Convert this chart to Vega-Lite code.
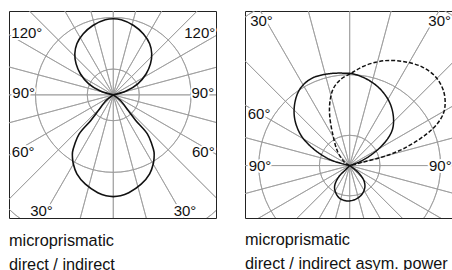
{
  "$schema": "https://vega.github.io/schema/vega-lite/v6.json",
  "padding": {"left": 8, "top": 10, "right": 0, "bottom": 0},
  "background": "white",
  "spacing": 27,
  "config": {"view": {"stroke": "#222", "strokeWidth": 1}, "font": "Liberation Sans"},
  "datasets": {
    "rings": [{"r": 1}, {"r": 2}, {"r": 3}, {"r": 4}, {"r": 5}, {"r": 6}, {"r": 7}],
    "spokes": [{"a": 0}, {"a": 15}, {"a": 30}, {"a": 45}, {"a": 60}, {"a": 75}, {"a": 90}, {"a": 105}, {"a": 120}, {"a": 135}, {"a": 150}, {"a": 165}, {"a": 180}, {"a": 195}, {"a": 210}, {"a": 225}, {"a": 240}, {"a": 255}, {"a": 270}, {"a": 285}, {"a": 300}, {"a": 315}, {"a": 330}, {"a": 345}],
    "leftCurve": [
      {"s": "U", "i": 0, "x": 0, "y": 0}, {"s": "U", "i": 1, "x": -0.5, "y": 0.15}, {"s": "U", "i": 2, "x": -0.95, "y": 0.43}, {"s": "U", "i": 3, "x": -1.27, "y": 0.81}, {"s": "U", "i": 4, "x": -1.44, "y": 1.2}, {"s": "U", "i": 5, "x": -1.49, "y": 1.59}, {"s": "U", "i": 6, "x": -1.41, "y": 1.98}, {"s": "U", "i": 7, "x": -1.17, "y": 2.36}, {"s": "U", "i": 8, "x": -0.79, "y": 2.69}, {"s": "U", "i": 9, "x": -0.31, "y": 2.91}, {"s": "U", "i": 10, "x": 0, "y": 2.95}, {"s": "U", "i": 11, "x": 0.31, "y": 2.91}, {"s": "U", "i": 12, "x": 0.79, "y": 2.69}, {"s": "U", "i": 13, "x": 1.17, "y": 2.36}, {"s": "U", "i": 14, "x": 1.41, "y": 1.98}, {"s": "U", "i": 15, "x": 1.49, "y": 1.59}, {"s": "U", "i": 16, "x": 1.44, "y": 1.2}, {"s": "U", "i": 17, "x": 1.27, "y": 0.81}, {"s": "U", "i": 18, "x": 0.95, "y": 0.43}, {"s": "U", "i": 19, "x": 0.5, "y": 0.15}, {"s": "U", "i": 20, "x": 0, "y": 0},
      {"s": "D", "i": 0, "x": 0, "y": 0}, {"s": "D", "i": 1, "x": -0.28, "y": -0.22}, {"s": "D", "i": 2, "x": -0.58, "y": -0.61}, {"s": "D", "i": 3, "x": -0.87, "y": -0.99}, {"s": "D", "i": 4, "x": -1.32, "y": -1.51}, {"s": "D", "i": 5, "x": -1.49, "y": -1.9}, {"s": "D", "i": 6, "x": -1.58, "y": -2.22}, {"s": "D", "i": 7, "x": -1.58, "y": -2.45}, {"s": "D", "i": 8, "x": -1.55, "y": -2.67}, {"s": "D", "i": 9, "x": -1.41, "y": -3.06}, {"s": "D", "i": 10, "x": -1.08, "y": -3.46}, {"s": "D", "i": 11, "x": -0.6, "y": -3.79}, {"s": "D", "i": 12, "x": -0.28, "y": -3.91}, {"s": "D", "i": 13, "x": 0, "y": -3.94}, {"s": "D", "i": 14, "x": 0.28, "y": -3.91}, {"s": "D", "i": 15, "x": 0.6, "y": -3.79}, {"s": "D", "i": 16, "x": 1.08, "y": -3.46}, {"s": "D", "i": 17, "x": 1.41, "y": -3.06}, {"s": "D", "i": 18, "x": 1.55, "y": -2.67}, {"s": "D", "i": 19, "x": 1.58, "y": -2.45}, {"s": "D", "i": 20, "x": 1.58, "y": -2.22}, {"s": "D", "i": 21, "x": 1.49, "y": -1.9}, {"s": "D", "i": 22, "x": 1.32, "y": -1.51}, {"s": "D", "i": 23, "x": 0.87, "y": -0.99}, {"s": "D", "i": 24, "x": 0.58, "y": -0.61}, {"s": "D", "i": 25, "x": 0.28, "y": -0.22}, {"s": "D", "i": 26, "x": 0, "y": 0}
    ],
    "rightCurve": [
      {"s": "SU", "c": "solid", "i": 0, "x": 0, "y": 0}, {"s": "SU", "c": "solid", "i": 1, "x": -0.35, "y": 0.09}, {"s": "SU", "c": "solid", "i": 2, "x": -0.7, "y": 0.22}, {"s": "SU", "c": "solid", "i": 3, "x": -1.23, "y": 0.58}, {"s": "SU", "c": "solid", "i": 4, "x": -1.62, "y": 1.02}, {"s": "SU", "c": "solid", "i": 5, "x": -1.82, "y": 1.57}, {"s": "SU", "c": "solid", "i": 6, "x": -1.8, "y": 2.12}, {"s": "SU", "c": "solid", "i": 7, "x": -1.62, "y": 2.56}, {"s": "SU", "c": "solid", "i": 8, "x": -1.23, "y": 2.89}, {"s": "SU", "c": "solid", "i": 9, "x": -0.68, "y": 3.03}, {"s": "SU", "c": "solid", "i": 10, "x": -0.24, "y": 3.05}, {"s": "SU", "c": "solid", "i": 11, "x": 0.09, "y": 3.03}, {"s": "SU", "c": "solid", "i": 12, "x": 0.53, "y": 2.87}, {"s": "SU", "c": "solid", "i": 13, "x": 0.97, "y": 2.56}, {"s": "SU", "c": "solid", "i": 14, "x": 1.3, "y": 2.12}, {"s": "SU", "c": "solid", "i": 15, "x": 1.44, "y": 1.63}, {"s": "SU", "c": "solid", "i": 16, "x": 1.41, "y": 1.19}, {"s": "SU", "c": "solid", "i": 17, "x": 1.19, "y": 0.8}, {"s": "SU", "c": "solid", "i": 18, "x": 0.86, "y": 0.47}, {"s": "SU", "c": "solid", "i": 19, "x": 0.42, "y": 0.17}, {"s": "SU", "c": "solid", "i": 20, "x": 0, "y": 0},
      {"s": "SL", "c": "solid", "i": 0, "x": 0, "y": 0}, {"s": "SL", "c": "solid", "i": 1, "x": -0.17, "y": -0.17}, {"s": "SL", "c": "solid", "i": 2, "x": -0.33, "y": -0.33}, {"s": "SL", "c": "solid", "i": 3, "x": -0.46, "y": -0.55}, {"s": "SL", "c": "solid", "i": 4, "x": -0.5, "y": -0.72}, {"s": "SL", "c": "solid", "i": 5, "x": -0.46, "y": -0.9}, {"s": "SL", "c": "solid", "i": 6, "x": -0.33, "y": -1.08}, {"s": "SL", "c": "solid", "i": 7, "x": -0.06, "y": -1.17}, {"s": "SL", "c": "solid", "i": 8, "x": 0.22, "y": -1.1}, {"s": "SL", "c": "solid", "i": 9, "x": 0.41, "y": -0.94}, {"s": "SL", "c": "solid", "i": 10, "x": 0.5, "y": -0.72}, {"s": "SL", "c": "solid", "i": 11, "x": 0.47, "y": -0.5}, {"s": "SL", "c": "solid", "i": 12, "x": 0.33, "y": -0.28}, {"s": "SL", "c": "solid", "i": 13, "x": 0.17, "y": -0.13}, {"s": "SL", "c": "solid", "i": 14, "x": 0, "y": 0},
      {"s": "DU", "c": "dashed", "i": 0, "x": 0, "y": 0}, {"s": "DU", "c": "dashed", "i": 1, "x": -0.17, "y": 0.11}, {"s": "DU", "c": "dashed", "i": 2, "x": -0.39, "y": 0.44}, {"s": "DU", "c": "dashed", "i": 3, "x": -0.55, "y": 0.99}, {"s": "DU", "c": "dashed", "i": 4, "x": -0.66, "y": 1.65}, {"s": "DU", "c": "dashed", "i": 5, "x": -0.65, "y": 2.12}, {"s": "DU", "c": "dashed", "i": 6, "x": -0.54, "y": 2.54}, {"s": "DU", "c": "dashed", "i": 7, "x": -0.3, "y": 2.84}, {"s": "DU", "c": "dashed", "i": 8, "x": 0.07, "y": 3.06}, {"s": "DU", "c": "dashed", "i": 9, "x": 0.42, "y": 3.26}, {"s": "DU", "c": "dashed", "i": 10, "x": 0.86, "y": 3.41}, {"s": "DU", "c": "dashed", "i": 11, "x": 1.3, "y": 3.47}, {"s": "DU", "c": "dashed", "i": 12, "x": 1.85, "y": 3.42}, {"s": "DU", "c": "dashed", "i": 13, "x": 2.4, "y": 3.25}, {"s": "DU", "c": "dashed", "i": 14, "x": 2.84, "y": 2.92}, {"s": "DU", "c": "dashed", "i": 15, "x": 3.08, "y": 2.51}, {"s": "DU", "c": "dashed", "i": 16, "x": 3.15, "y": 2.12}, {"s": "DU", "c": "dashed", "i": 17, "x": 3.1, "y": 1.74}, {"s": "DU", "c": "dashed", "i": 18, "x": 2.89, "y": 1.38}, {"s": "DU", "c": "dashed", "i": 19, "x": 2.51, "y": 1.02}, {"s": "DU", "c": "dashed", "i": 20, "x": 1.76, "y": 0.55}, {"s": "DU", "c": "dashed", "i": 21, "x": 1.04, "y": 0.27}, {"s": "DU", "c": "dashed", "i": 22, "x": 0.42, "y": 0.11}, {"s": "DU", "c": "dashed", "i": 23, "x": 0, "y": 0}
    ],
    "leftLabels": [
      {"t": "120°", "x": -3.35, "y": 2.38}, {"t": "120°", "x": 3.35, "y": 2.38},
      {"t": "90°", "x": -3.47, "y": 0.06}, {"t": "90°", "x": 3.47, "y": 0.06},
      {"t": "60°", "x": -3.49, "y": -2.22}, {"t": "60°", "x": 3.49, "y": -2.22},
      {"t": "30°", "x": -2.78, "y": -4.48}, {"t": "30°", "x": 2.78, "y": -4.48}
    ],
    "rightLabels": [
      {"t": "30°", "x": -2.91, "y": 4.77}, {"t": "30°", "x": 2.97, "y": 4.77},
      {"t": "60°", "x": -2.99, "y": 1.71},
      {"t": "90°", "x": -2.96, "y": -0.01}, {"t": "90°", "x": 2.99, "y": -0.01}
    ]
  },
  "hconcat": [
    {
      "width": 207,
      "height": 207,
      "title": {"text": ["microprismatic", "direct / indirect"], "orient": "bottom", "anchor": "start", "baseline": "top", "fontSize": 16.3, "fontWeight": "normal", "font": "Liberation Sans", "color": "#111", "lineHeight": 24, "offset": 14},
      "layer": [
        {
          "data": {"name": "rings"},
          "mark": {"type": "arc", "filled": false, "stroke": "#9a9a9a", "strokeWidth": 0.8, "theta": 6.2832, "clip": true},
          "encoding": {
            "x": {"datum": 0, "type": "quantitative", "scale": {"domain": [-4.04, 3.98], "nice": false, "zero": false}, "axis": null},
            "y": {"datum": 0, "type": "quantitative", "scale": {"domain": [-4.77, 3.25], "nice": false, "zero": false}, "axis": null},
            "radius": {"field": "r", "type": "quantitative", "scale": {"type": "linear", "domain": [0, 8], "range": [0, 206.5], "nice": false, "zero": true}}
          }
        },
        {
          "data": {"name": "spokes"},
          "mark": {"type": "arc", "filled": false, "stroke": "#9a9a9a", "strokeWidth": 0.8, "clip": true},
          "encoding": {
            "x": {"datum": 0, "type": "quantitative", "axis": null},
            "y": {"datum": 0, "type": "quantitative", "axis": null},
            "theta": {"field": "a", "type": "quantitative", "stack": null, "scale": {"type": "linear", "domain": [0, 360], "range": [0, 6.283185307179586], "nice": false, "zero": true}},
            "theta2": {"field": "a"},
            "radius": {"datum": 12, "type": "quantitative"}
          }
        },
        {
          "data": {"name": "leftCurve"},
          "mark": {"type": "line", "interpolate": "catmull-rom", "color": "#111", "strokeWidth": 1.6, "clip": true},
          "encoding": {
            "x": {"field": "x", "type": "quantitative", "axis": null},
            "y": {"field": "y", "type": "quantitative", "axis": null},
            "detail": {"field": "s", "type": "nominal"},
            "order": {"field": "i", "type": "quantitative"}
          }
        },
        {
          "data": {"name": "leftLabels"},
          "mark": {"type": "text", "fontSize": 15, "font": "Liberation Sans", "color": "white", "stroke": "white", "strokeWidth": 4, "strokeJoin": "round"},
          "encoding": {
            "x": {"field": "x", "type": "quantitative", "axis": null},
            "y": {"field": "y", "type": "quantitative", "axis": null},
            "text": {"field": "t", "type": "nominal"}
          }
        },
        {
          "data": {"name": "leftLabels"},
          "mark": {"type": "text", "fontSize": 15, "font": "Liberation Sans", "color": "#111"},
          "encoding": {
            "x": {"field": "x", "type": "quantitative", "axis": null},
            "y": {"field": "y", "type": "quantitative", "axis": null},
            "text": {"field": "t", "type": "nominal"}
          }
        }
      ]
    },
    {
      "width": 207,
      "height": 207,
      "title": {"text": ["microprismatic", "direct / indirect asym. power"], "orient": "bottom", "anchor": "start", "baseline": "top", "fontSize": 16.3, "fontWeight": "normal", "font": "Liberation Sans", "color": "#111", "lineHeight": 24, "offset": 14},
      "layer": [
        {
          "data": {"name": "rings"},
          "mark": {"type": "arc", "filled": false, "stroke": "#9a9a9a", "strokeWidth": 0.8, "theta": 6.2832, "clip": true},
          "encoding": {
            "x": {"datum": 0, "type": "quantitative", "scale": {"domain": [-3.455, 3.376], "nice": false, "zero": false}, "axis": null},
            "y": {"datum": 0, "type": "quantitative", "scale": {"domain": [-1.73, 5.1], "nice": false, "zero": false}, "axis": null},
            "radius": {"field": "r", "type": "quantitative", "scale": {"type": "linear", "domain": [0, 8], "range": [0, 242.4], "nice": false, "zero": true}}
          }
        },
        {
          "data": {"name": "spokes"},
          "mark": {"type": "arc", "filled": false, "stroke": "#9a9a9a", "strokeWidth": 0.8, "clip": true},
          "encoding": {
            "x": {"datum": 0, "type": "quantitative", "axis": null},
            "y": {"datum": 0, "type": "quantitative", "axis": null},
            "theta": {"field": "a", "type": "quantitative", "stack": null, "scale": {"type": "linear", "domain": [0, 360], "range": [0, 6.283185307179586], "nice": false, "zero": true}},
            "theta2": {"field": "a"},
            "radius": {"datum": 12, "type": "quantitative"}
          }
        },
        {
          "data": {"name": "rightCurve"},
          "mark": {"type": "line", "interpolate": "catmull-rom", "color": "#111", "strokeWidth": 1.5, "clip": true},
          "encoding": {
            "x": {"field": "x", "type": "quantitative", "axis": null},
            "y": {"field": "y", "type": "quantitative", "axis": null},
            "detail": {"field": "s", "type": "nominal"},
            "order": {"field": "i", "type": "quantitative"},
            "strokeDash": {"field": "c", "type": "nominal", "scale": {"domain": ["solid", "dashed"], "range": [[1, 0], [4, 2]]}, "legend": null}
          }
        },
        {
          "data": {"name": "rightLabels"},
          "mark": {"type": "text", "fontSize": 15, "font": "Liberation Sans", "color": "white", "stroke": "white", "strokeWidth": 4, "strokeJoin": "round"},
          "encoding": {
            "x": {"field": "x", "type": "quantitative", "axis": null},
            "y": {"field": "y", "type": "quantitative", "axis": null},
            "text": {"field": "t", "type": "nominal"}
          }
        },
        {
          "data": {"name": "rightLabels"},
          "mark": {"type": "text", "fontSize": 15, "font": "Liberation Sans", "color": "#111"},
          "encoding": {
            "x": {"field": "x", "type": "quantitative", "axis": null},
            "y": {"field": "y", "type": "quantitative", "axis": null},
            "text": {"field": "t", "type": "nominal"}
          }
        }
      ]
    }
  ]
}
